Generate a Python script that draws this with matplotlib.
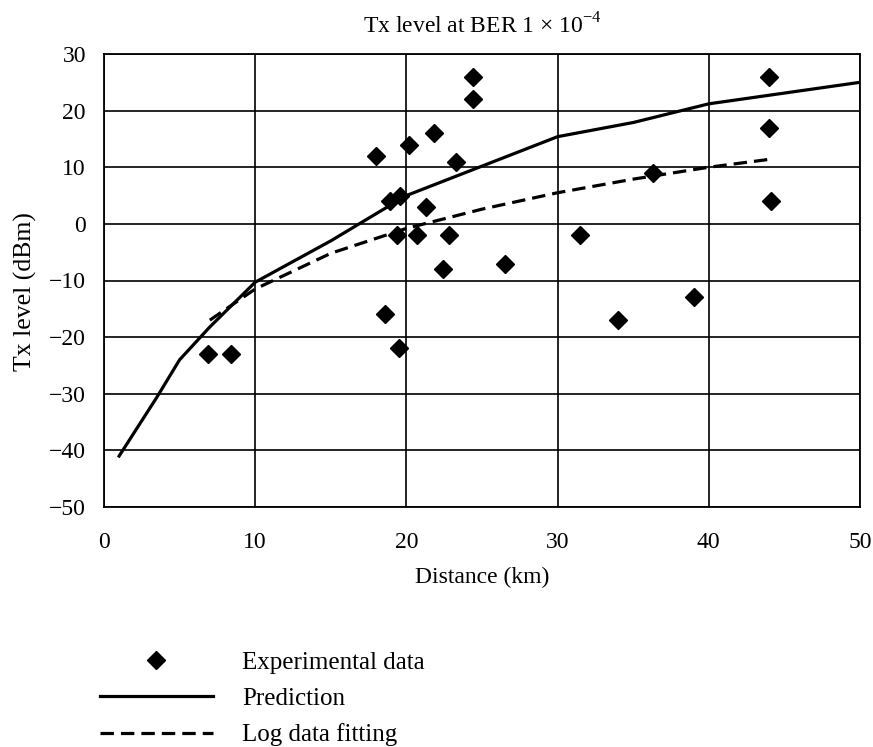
import matplotlib
matplotlib.use("Agg")
import matplotlib.pyplot as plt

plt.rcParams["font.family"] = ["Liberation Serif", "DejaVu Serif"]
plt.rcParams["mathtext.fontset"] = "custom"
plt.rcParams["mathtext.rm"] = "Liberation Serif"
plt.rcParams["font.size"] = 17

# measured points (distance km, Tx level dBm)
exp_dist = [6.9, 8.4, 18.0, 18.6, 18.9, 19.4, 19.5, 19.6, 20.2, 20.7, 21.3,
            21.8, 22.4, 22.8, 23.3, 24.4, 24.4, 26.5, 31.5, 34.0, 36.3, 39.0,
            44.0, 44.0, 44.1]
exp_tx = [-23, -23, 12, -16, 4, -2, -22, 5, 14, -2, 3,
          16, -8, -2, 11, 26, 22, -7, -2, -17, 9, -13,
          26, 17, 4]

# prediction curve
pred_dist = [1, 3.5, 5, 7, 10, 15, 20, 25, 30, 35, 40, 45, 50]
pred_tx = [-41, -30.6, -24, -18.2, -10.3, -3, 5, 10.2, 15.4, 17.9, 21.2, 23.1, 25]

# log fit of the data
fit_dist = [7, 10, 15, 20, 25, 30, 35, 40, 44.3]
fit_tx = [-17, -11.5, -5.2, -0.8, 2.6, 5.5, 7.9, 10, 11.5]

fig = plt.figure(figsize=(8.73, 7.47), dpi=100)
ax = fig.add_axes([104 / 873, 1 - 507 / 747, (860 - 104) / 873, (507 - 54) / 747])

h_exp, = ax.plot(exp_dist, exp_tx, ls="none", marker="D", ms=9.5,
                 color="black", label="Experimental data", zorder=4)
h_pred, = ax.plot(pred_dist, pred_tx, color="black", lw=2.3,
                  label="Prediction", zorder=3)
h_fit, = ax.plot(fit_dist, fit_tx, color="black", lw=2.3, ls="--",
                 dashes=(4.2, 2.2), label="Log data fitting", zorder=3)

ax.set_xlim(0, 50)
ax.set_ylim(-50, 30)
ax.set_xticks(range(0, 51, 10))
ax.set_yticks(range(-50, 31, 10))
ax.grid(True, color="black", lw=1.2)
for sp in ax.spines.values():
    sp.set_linewidth(1.3)
ax.tick_params(axis="both", length=0)
ax.tick_params(axis="x", pad=18)
ax.tick_params(axis="y", pad=13)

ax.set_title("Tx level at BER 1 \u00d7 10$^{\\mathregular{\u2212 4}}$",
             fontsize=17, pad=15)
ax.set_xlabel("Distance (km)", labelpad=10)
ax.set_ylabel("Tx level (dBm)", fontsize=18.5)
ax.yaxis.set_label_coords(-0.089, 0.475)

fig.legend(handles=[h_exp, h_pred, h_fit], loc="upper left",
           bbox_to_anchor=(100 / 873, 1 - 651 / 747), frameon=False,
           fontsize=18, borderpad=0, borderaxespad=0, handlelength=4.5,
           handletextpad=1.17, labelspacing=0.55)

fig.savefig("out.png", dpi=100)
